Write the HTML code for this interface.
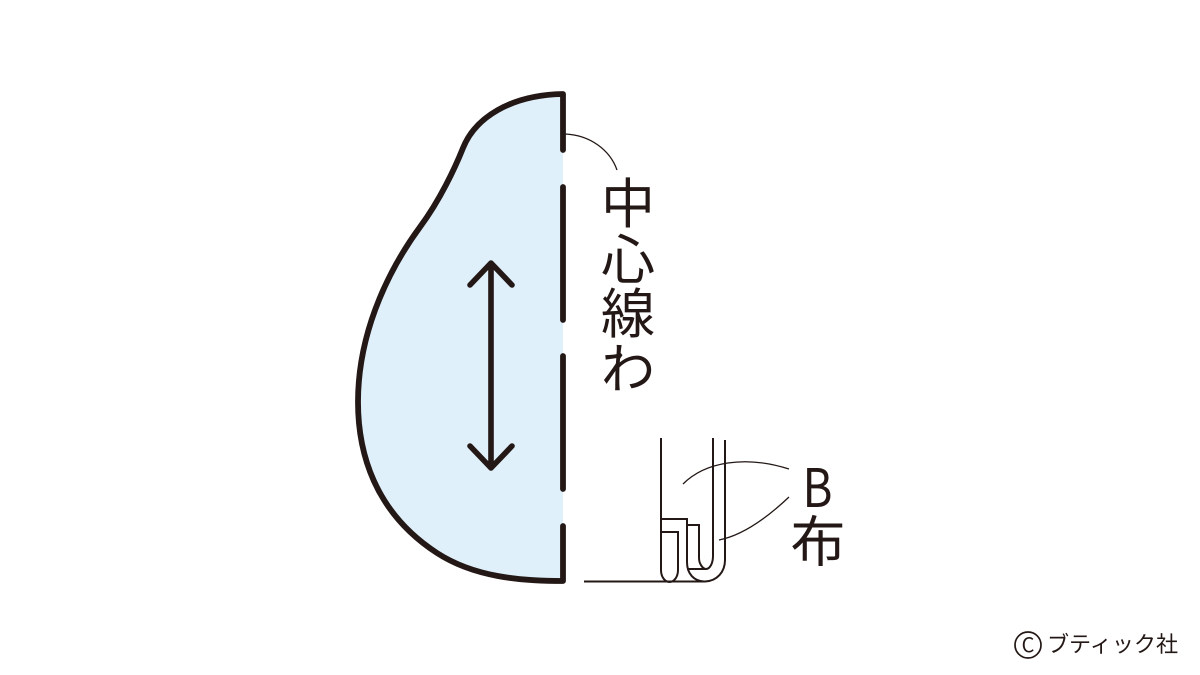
<!DOCTYPE html>
<html lang="ja"><head><meta charset="utf-8"><style>
html,body{margin:0;padding:0;background:#fff;width:1200px;height:675px;overflow:hidden}
svg{display:block}
text{font-family:"Noto Sans CJK JP","Liberation Sans",sans-serif;fill:#231815;font-weight:400}
</style></head><body>
<svg width="1200" height="675" viewBox="0 0 1200 675" xmlns="http://www.w3.org/2000/svg">
<rect width="1200" height="675" fill="#fff"/>
<path d="M563 94 C510 95 475 118 463 148 C455 168 440 200 420 227 C395 261 358 325 358 402 C358 452 374 512 437 553 C474 577 520 581 563 581 Z" fill="#dff0fa"/>
<path d="M563 150 V94 C510 95 475 118 463 148 C455 168 440 200 420 227 C395 261 358 325 358 402 C358 452 374 512 437 553 C474 577 520 581 563 581 V526" fill="none" stroke="#231815" stroke-width="5.800" stroke-linecap="round" stroke-linejoin="round"/>
<path d="M563 187 V320 M563 356 V489" stroke="#231815" stroke-width="5.800" stroke-linecap="round" fill="none"/>
<path d="M491 263 V468 M470 285 L491 263 L512 285 M470 446 L491 468 L512 446" fill="none" stroke="#231815" stroke-width="5.600" stroke-linecap="round" stroke-linejoin="round"/>
<path d="M565 134 C590 135 610 150 617 170" fill="none" stroke="#231815" stroke-width="1.300"/>
<text x="628" y="223" font-size="54" text-anchor="middle">中</text>
<text x="628" y="279" font-size="54" text-anchor="middle">心</text>
<text x="628" y="333" font-size="54" text-anchor="middle">線</text>
<text x="628" y="388" font-size="54" text-anchor="middle">わ</text>
<g fill="none" stroke="#231815" stroke-width="2">
<path d="M584 581.500 H705 C717 581 725 572 725 560 V440"/>
<path d="M661 438 V570 C661 577 665 582 669.500 582 C674 582 678 577 678 570 V532 H661"/>
<path d="M661 519 H687 V562 C687 574 694 581 704 581.500"/>
<path d="M687 525 H699 V558 C699 564 703 569 706 569 C710 569 713 563 713 556 V438"/>
<path d="M687 569 H706"/>
</g>
<path d="M683 484 C705 462 745 455 789 469 M719 540 C745 535 770 515 789 497" fill="none" stroke="#231815" stroke-width="1.300"/>
<text x="817.500" y="507" font-size="53" text-anchor="middle" textLength="30" lengthAdjust="spacingAndGlyphs">B</text>
<text x="818" y="561.500" font-size="55" text-anchor="middle">布</text>
<circle cx="1028" cy="645" r="13" fill="none" stroke="#231815" stroke-width="1.700"/>
<text x="1028" y="652" font-size="20" text-anchor="middle">C</text>
<text x="1047" y="652" font-size="22" textLength="131" lengthAdjust="spacingAndGlyphs">ブティック社</text>
</svg>
</body></html>
